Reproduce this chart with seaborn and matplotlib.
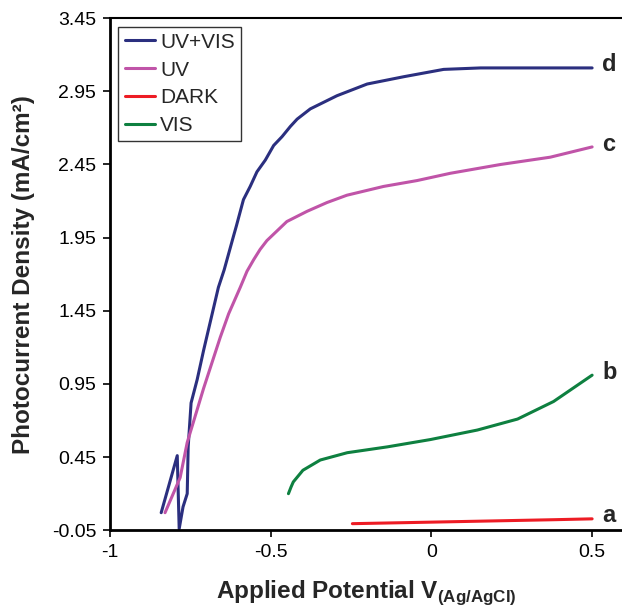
import pandas as pd
import matplotlib
matplotlib.use("Agg")
import matplotlib.pyplot as plt
import seaborn as sns

# values
uvvis_x = [-0.841, -0.791, -0.785, -0.773, -0.760, -0.757, -0.748, -0.729, -0.709,
           -0.663, -0.645, -0.616, -0.607, -0.585, -0.564, -0.543, -0.517, -0.491,
           -0.465, -0.439, -0.418, -0.377, -0.294, -0.200, -0.086, 0.038, 0.153,
           0.300, 0.500]
uvvis_y = [0.07, 0.46, -0.04, 0.11, 0.20, 0.52, 0.82, 0.98, 1.18,
           1.61, 1.73, 1.96, 2.03, 2.21, 2.30, 2.40, 2.48, 2.58,
           2.64, 2.71, 2.76, 2.83, 2.92, 3.00, 3.05, 3.10, 3.11,
           3.11, 3.11]

uv_x = [-0.829, -0.782, -0.760, -0.709, -0.657, -0.631, -0.595, -0.574, -0.553,
        -0.533, -0.512, -0.450, -0.387, -0.325, -0.263, -0.149, -0.045, 0.059,
        0.215, 0.370, 0.500]
uv_y = [0.07, 0.31, 0.55, 0.92, 1.27, 1.43, 1.61, 1.72, 1.80,
        1.87, 1.93, 2.06, 2.13, 2.19, 2.24, 2.30, 2.34, 2.39,
        2.45, 2.50, 2.57]

dark_x = [-0.246, -0.08, 0.15, 0.38, 0.500]
dark_y = [-0.005, 0.002, 0.012, 0.022, 0.028]

vis_x = [-0.445, -0.437, -0.430, -0.400, -0.346, -0.262, -0.137, -0.003, 0.143,
         0.268, 0.380, 0.500]
vis_y = [0.20, 0.245, 0.28, 0.36, 0.43, 0.48, 0.52, 0.57, 0.635,
         0.71, 0.83, 1.01]

series = ["UV+VIS", "UV", "DARK", "VIS"]
tags = ["d", "c", "a", "b"]
colors = ["#2B2F7F", "#C054A8", "#ED1C24", "#0E8040"]

frames = []
for name, xs, ys in zip(series, [uvvis_x, uv_x, dark_x, vis_x], [uvvis_y, uv_y, dark_y, vis_y]):
    frames.append(pd.DataFrame({"x": xs, "y": ys, "series": name}))
df = pd.concat(frames, ignore_index=True)

sns.set_style("white")
plt.rcParams["font.family"] = ["Liberation Sans", "DejaVu Sans"]
plt.rcParams["mathtext.fontset"] = "custom"
plt.rcParams["mathtext.rm"] = "Liberation Sans"
plt.rcParams["mathtext.bf"] = "Liberation Sans:bold"
plt.rcParams["axes.unicode_minus"] = False

fig = plt.figure(figsize=(6.22, 6.06), dpi=100)
ax = fig.add_axes([0.177, 0.125, 0.823, 0.845])

sns.lineplot(data=df, x="x", y="y", hue="series", hue_order=series,
             palette=colors, sort=False, estimator=None, linewidth=2.2, ax=ax)

ax.set_xlim(-1, 0.593)
ax.set_ylim(-0.05, 3.45)
ax.set_xticks([-1, -0.5, 0, 0.5])
ax.set_xticklabels(["-1", "-0.5", "0", "0.5"])
yt = [-0.05, 0.45, 0.95, 1.45, 1.95, 2.45, 2.95, 3.45]
ax.set_yticks(yt)
ax.set_yticklabels([f"{v:.2f}" for v in yt])
ax.tick_params(axis="both", direction="out", length=5, width=1.2, labelsize=14,
               colors="black", left=True, bottom=True, pad=5)

for s in ["left", "bottom"]:
    ax.spines[s].set_linewidth(2)
    ax.spines[s].set_color("black")
ax.spines["top"].set_linewidth(1.5)
ax.spines["top"].set_color("black")
ax.spines["right"].set_visible(False)

ax.set_xlabel(r"Applied Potential V$_{\mathbf{(Ag/AgCl)}}$", fontsize=17.5,
              fontweight="bold", labelpad=12)
ax.set_ylabel("Photocurrent Density (mA/cm²)", fontsize=17.5, fontweight="bold", labelpad=12)

ends = [uvvis_y[-1], uv_y[-1], dark_y[-1], vis_y[-1]]
for tag, yv in zip(tags, ends):
    ax.text(0.531, yv + 0.02, tag, fontsize=17, fontweight="bold", va="center", ha="left")

leg = ax.legend(loc="upper left", fontsize=15, frameon=True, fancybox=False,
                edgecolor="black", handlelength=1.45, handletextpad=0.25,
                borderpad=0.3, labelspacing=0.42, borderaxespad=0.4)
leg.get_frame().set_linewidth(1.0)

fig.savefig("out.png", dpi=100)
